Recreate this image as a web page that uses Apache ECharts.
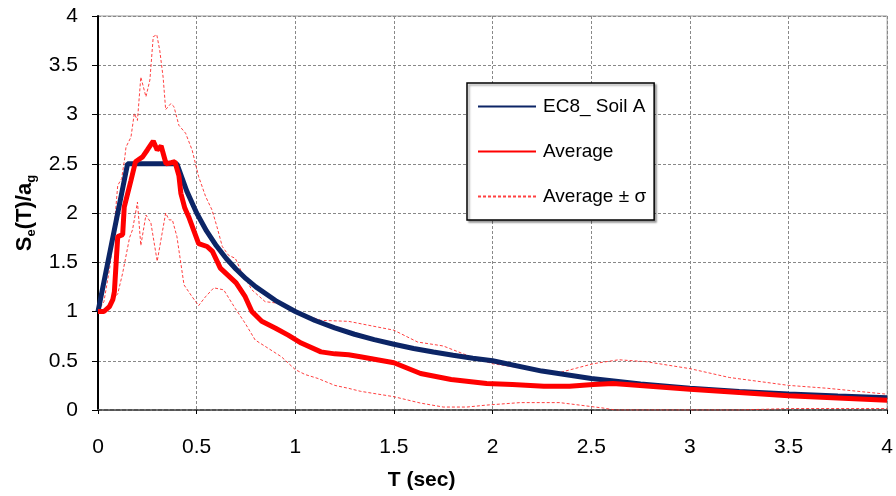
<!DOCTYPE html>
<html><head><meta charset="utf-8">
<script src="https://cdn.jsdelivr.net/npm/echarts@6/dist/echarts.min.js"></script>
<style>html,body{margin:0;padding:0;background:#fff}#c{width:896px;height:496px}</style>
</head><body><div id="c"></div>
<script>
var xTicks = [0, 0.5, 1, 1.5, 2, 2.5, 3, 3.5, 4];
var yTicks = [0, 0.5, 1, 1.5, 2, 2.5, 3, 3.5, 4];

var ec8T = [0, 0.15, 0.4, 0.45, 0.5, 0.55, 0.6, 0.65, 0.7, 0.75, 0.8, 0.9, 1.0, 1.1, 1.2, 1.3, 1.4, 1.5, 1.6, 1.7, 1.8, 1.9, 2.0, 2.25, 2.5, 2.75, 3.0, 3.25, 3.5, 3.75, 4.0];
var ec8V = [1.0, 2.5, 2.5, 2.222, 2.0, 1.818, 1.667, 1.538, 1.429, 1.333, 1.25, 1.111, 1.0, 0.909, 0.833, 0.769, 0.714, 0.667, 0.625, 0.588, 0.556, 0.526, 0.5, 0.395, 0.32, 0.264, 0.222, 0.189, 0.163, 0.142, 0.125];

var avgT = [0, 0.03, 0.058, 0.075, 0.083, 0.1, 0.125, 0.133, 0.167, 0.19, 0.226, 0.25, 0.28, 0.30, 0.32, 0.345, 0.37, 0.39, 0.41, 0.42, 0.44, 0.46, 0.51, 0.553, 0.58, 0.62, 0.70, 0.746, 0.78, 0.83, 0.90, 0.964, 1.03, 1.13, 1.2, 1.27, 1.33, 1.5, 1.635, 1.79, 1.97, 2.1, 2.26, 2.39, 2.51, 2.61, 2.68, 3.0, 3.5, 4.0];
var avgV = [1.0, 1.0, 1.05, 1.12, 1.2, 1.76, 1.78, 2.06, 2.33, 2.52, 2.57, 2.64, 2.73, 2.64, 2.68, 2.5, 2.51, 2.52, 2.38, 2.2, 2.05, 1.96, 1.69, 1.66, 1.61, 1.44, 1.29, 1.15, 1.0, 0.9, 0.83, 0.76, 0.68, 0.59, 0.57, 0.56, 0.54, 0.48, 0.37, 0.31, 0.27, 0.26, 0.24, 0.24, 0.26, 0.27, 0.26, 0.21, 0.145, 0.1];

var upT = [0, 0.03, 0.06, 0.08, 0.1, 0.12, 0.135, 0.142, 0.167, 0.184, 0.2, 0.217, 0.243, 0.263, 0.28, 0.298, 0.313, 0.33, 0.343, 0.369, 0.385, 0.41, 0.444, 0.477, 0.51, 0.545, 0.578, 0.603, 0.63, 0.662, 0.696, 0.73, 0.78, 0.847, 0.93, 1.0, 1.13, 1.27, 1.5, 1.62, 1.75, 1.89, 2.0, 2.17, 2.34, 2.51, 2.64, 2.78, 3.0, 3.2, 3.5, 3.7, 4.0];
var upV = [1.0, 1.1, 1.45, 1.8, 2.28, 2.35, 2.55, 2.67, 2.77, 3.01, 2.94, 3.38, 3.18, 3.35, 3.79, 3.81, 3.65, 3.38, 3.05, 3.11, 3.08, 2.89, 2.81, 2.64, 2.37, 2.17, 2.03, 1.86, 1.66, 1.57, 1.54, 1.39, 1.22, 1.10, 1.08, 1.0, 0.91, 0.90, 0.81, 0.69, 0.65, 0.54, 0.47, 0.42, 0.38, 0.47, 0.51, 0.49, 0.42, 0.33, 0.25, 0.22, 0.16];

var loT = [0, 0.04, 0.058, 0.1, 0.125, 0.16, 0.175, 0.2, 0.217, 0.243, 0.268, 0.30, 0.343, 0.36, 0.377, 0.40, 0.436, 0.477, 0.51, 0.545, 0.587, 0.637, 0.696, 0.746, 0.797, 0.86, 0.93, 1.0, 1.05, 1.115, 1.2, 1.27, 1.33, 1.5, 1.635, 1.75, 1.87, 1.97, 2.14, 2.34, 2.44, 2.56, 2.62, 3.25, 3.5, 4.0];
var loV = [1.0, 1.03, 1.08, 1.18, 1.39, 1.75, 1.83, 2.11, 1.67, 1.98, 1.9, 1.51, 2.0, 1.93, 1.93, 1.76, 1.27, 1.15, 1.06, 1.15, 1.24, 1.22, 1.03, 0.88, 0.71, 0.63, 0.54, 0.41, 0.36, 0.32, 0.25, 0.22, 0.19, 0.135, 0.07, 0.03, 0.03, 0.05, 0.075, 0.075, 0.05, 0.02, 0.0, 0.0, 0.015, 0.015];

var names = ['EC8_ Soil A', 'Average', 'Average ± σ'];

function zip(a, b) { return a.map(function (t, i) { return [t, b[i]]; }); }

var chart = echarts.init(document.getElementById('c'), null, {renderer: 'canvas'});
var FF = 'Arial, "Liberation Sans", sans-serif';
chart.setOption({
  animation: false,
  backgroundColor: '#fff',
  grid: {left: 98, right: 4, top: 16, bottom: 86, show: true, borderColor: '#999', borderWidth: 1},
  xAxis: {
    type: 'value', min: 0, max: 4, interval: 0.5,
    name: 'T (sec)', nameLocation: 'middle', nameGap: 60,
    nameTextStyle: {fontFamily: FF, fontSize: 21, fontWeight: 'bold', color: '#000', padding: [0, 142, 0, 0]},
    axisLine: {lineStyle: {color: '#555', width: 2, type: [4, 2]}},
    axisTick: {show: true, length: 4, lineStyle: {color: '#000'}},
    axisLabel: {fontFamily: FF, fontSize: 21, color: '#000', margin: 27,
      formatter: function (v) { return xTicks.indexOf(v) >= 0 ? String(v) : ''; }},
    splitLine: {show: true, lineStyle: {color: '#888', type: [3, 2], width: 1}}
  },
  yAxis: {
    type: 'value', min: 0, max: 4, interval: 0.5,
    name: '{m|S}{s|e}{m|(T)/a}{s|g}', nameLocation: 'middle', nameGap: 60,
    nameTextStyle: {fontFamily: FF, fontSize: 22, fontWeight: 'bold', color: '#000',
      rich: {
        m: {fontFamily: FF, fontSize: 22, fontWeight: 'bold', color: '#000', lineHeight: 26},
        s: {fontFamily: FF, fontSize: 13, fontWeight: 'bold', color: '#000', lineHeight: 26, verticalAlign: 'bottom', padding: [10, 0, 0, 0]}
      }},
    axisLine: {show: true, lineStyle: {color: '#000', width: 2}},
    axisTick: {show: true, length: 6, lineStyle: {color: '#000', width: 1}},
    axisLabel: {fontFamily: FF, fontSize: 21, color: '#000', margin: 20,
      formatter: function (v) { return yTicks.indexOf(v) >= 0 ? String(v) : ''; }},
    splitLine: {show: true, lineStyle: {color: '#888', type: [3, 2], width: 1}}
  },
  legend: {
    orient: 'vertical', left: 467, top: 83,
    data: names,
    itemWidth: 58, itemHeight: 16, itemGap: 26,
    padding: [14, 8, 14, 10],
    backgroundColor: '#fff', borderColor: '#000', borderWidth: 1.5,
    shadowColor: 'rgba(0,0,0,0.35)', shadowOffsetX: 2, shadowOffsetY: 2, shadowBlur: 2,
    lineStyle: {width: 2},
    itemStyle: {opacity: 0},
    textStyle: {fontFamily: FF, fontSize: 19, color: '#000', padding: [0, 0, 0, 2]}
  },
  series: [
    {name: names[2], type: 'line', data: zip(upT, upV), symbol: 'none', z: 2,
      lineStyle: {color: '#ff2020', width: 1, type: [3, 2], opacity: 0.85}, itemStyle: {color: '#ff2020'}},
    {name: names[2], type: 'line', data: zip(loT, loV), symbol: 'none', z: 2,
      lineStyle: {color: '#ff2020', width: 1, type: [3, 2], opacity: 0.85}, itemStyle: {color: '#ff2020'}},
    {name: names[0], type: 'line', data: zip(ec8T, ec8V), symbol: 'none', z: 3,
      lineStyle: {color: '#0c2566', width: 5}, itemStyle: {color: '#0c2566'}},
    {name: names[1], type: 'line', data: zip(avgT, avgV), symbol: 'none', z: 4,
      lineStyle: {color: '#ff0000', width: 5}, itemStyle: {color: '#ff0000'}}
  ]
});
</script>
</body></html>
